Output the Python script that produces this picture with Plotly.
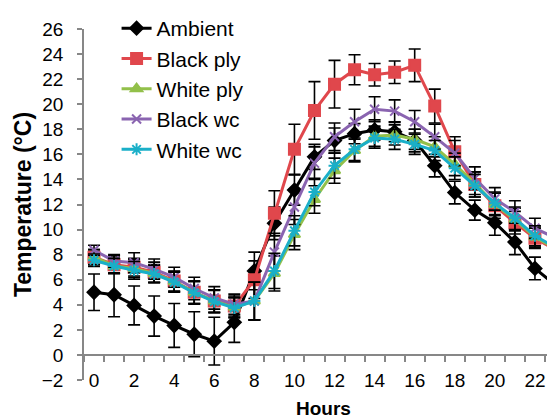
import plotly.graph_objects as go

hours = list(range(24))
x_tick_vals = list(range(0, 23, 2))
x_tick_text = [str(v) for v in x_tick_vals]
x_minor_ticks = [h - 0.5 for h in range(24)]
y_tick_vals = list(range(-2, 27, 2))

ambient = [5.0, 4.8, 3.95, 3.1, 2.35, 1.65, 1.1, 2.6, 6.7, 10.5, 13.15, 15.8,
           17.1, 17.65, 17.95, 17.8, 17.1, 15.1, 12.95, 11.55, 10.55, 9.0, 6.9, 5.6]
ambient_err = [1.45, 1.75, 1.55, 1.6, 1.75, 1.8, 1.9, 1.6, 1.5, 1.3, 1.2, 1.0,
               1.0, 0.8, 0.8, 0.8, 0.9, 0.9, 0.9, 0.8, 1.0, 1.0, 0.9, 1.1]

black_ply = [7.8, 7.2, 7.0, 6.6, 5.9, 5.0, 4.3, 3.9, 6.0, 11.3, 16.4, 19.5,
             21.6, 22.75, 22.35, 22.55, 23.1, 19.85, 16.2, 13.6, 11.9, 10.55, 9.3, 8.4]
black_ply_err = [0.6, 0.7, 0.7, 0.8, 0.8, 0.9, 0.9, 0.8, 1.5, 1.8, 2.0, 2.3,
                 1.9, 1.2, 0.9, 0.9, 1.3, 1.35, 1.2, 1.0, 1.0, 0.9, 0.8, 0.8]

white_ply = [7.8, 7.1, 6.9, 6.5, 5.85, 5.0, 4.3, 3.8, 4.3, 6.5, 9.6, 12.4,
             14.7, 16.3, 17.45, 17.55, 17.2, 16.6, 15.2, 13.7, 12.0, 10.8, 9.4, 8.5]
white_ply_err = [0.6, 0.6, 0.7, 0.7, 0.8, 0.9, 0.9, 0.8, 1.5, 1.4, 1.2, 1.1,
                 1.0, 0.9, 0.8, 0.8, 0.8, 0.8, 0.9, 0.9, 0.9, 0.9, 0.8, 0.8]

black_wc = [8.35, 7.5, 7.35, 6.85, 6.2, 5.3, 4.55, 4.05, 4.3, 8.2, 11.8, 15.3,
            17.4, 18.6, 19.6, 19.45, 18.6, 17.4, 16.1, 14.1, 12.45, 11.4, 10.1, 9.35]
black_wc_err = [0.4, 0.5, 0.8, 0.8, 0.8, 0.9, 0.9, 0.8, 1.5, 1.5, 1.4, 1.3,
                1.1, 1.0, 1.0, 0.9, 0.9, 1.0, 1.0, 0.9, 0.9, 0.9, 0.8, 0.8]

white_wc = [7.55, 7.1, 6.75, 6.45, 5.8, 4.95, 4.25, 3.75, 4.3, 6.7, 9.9, 13.0,
            15.1, 16.4, 17.3, 17.2, 16.8, 16.3, 14.9, 13.5, 12.1, 10.9, 9.5, 8.6]
white_wc_err = [0.5, 0.6, 0.7, 0.7, 0.8, 0.9, 0.9, 0.8, 1.5, 1.4, 1.2, 1.1,
                1.0, 0.9, 0.8, 0.8, 0.8, 0.8, 0.9, 0.9, 0.9, 0.9, 0.8, 0.8]

series = [
    ("Ambient", ambient, ambient_err, "#000000", "diamond", 10),
    ("Black ply", black_ply, black_ply_err, "#E0474C", "square", 11),
    ("White ply", white_ply, white_ply_err, "#92C04A", "triangle-up", 10),
    ("Black wc", black_wc, black_wc_err, "#8A64B0", "x-thin", 9),
    ("White wc", white_wc, white_wc_err, "#1AAFC8", "asterisk", 10),
]

fig = go.Figure()
for i, (name, vals, errs, color, sym, size) in enumerate(series):
    fig.add_trace(go.Scatter(
        x=hours, y=vals, name=name, mode="lines+markers",
        legendgroup=f"g{i}",
        line=dict(color=color, width=3),
        marker=dict(symbol=sym, size=size, color=color,
                    line=dict(color=color, width=2)),
        error_y=dict(type="data", array=errs, visible=True,
                     color="#000000", thickness=1.6, width=6),
    ))

font_family = "Liberation Sans, Arial, sans-serif"
tick_font = dict(family=font_family, size=19, color="#000000")

fig.update_layout(
    width=555, height=418,
    margin=dict(l=76, r=0, t=7, b=46),
    paper_bgcolor="white", plot_bgcolor="white",
    font=dict(family=font_family, size=19, color="#000000"),
    showlegend=True,
    legend=dict(x=0.068, y=1.06, xanchor="left", yanchor="top",
                font=dict(family=font_family, size=21, color="#000000"),
                tracegroupgap=0, bgcolor="rgba(0,0,0,0)"),
    xaxis=dict(
        range=[-0.5, 23.4], anchor="free", position=2 / 28,
        automargin=False,
        tickmode="array", tickvals=x_tick_vals, ticktext=x_tick_text,
        ticks="", showgrid=False, zeroline=False,
        showline=True, linecolor="#878787", linewidth=1.5,
        ticklabelstandoff=9,
        minor=dict(tickmode="array", tickvals=x_minor_ticks, ticks="outside",
                   ticklen=6, tickwidth=1.5, tickcolor="#878787", showgrid=False),
        title=dict(text="<b>Hours</b>", font=dict(family=font_family, size=19), standoff=10),
        tickfont=tick_font,
    ),
    yaxis=dict(
        range=[-2, 26], tickmode="array", tickvals=y_tick_vals,
        automargin=False,
        ticks="outside", ticklen=5, tickwidth=1.5, tickcolor="#878787",
        showline=True, linecolor="#878787", linewidth=1.5,
        showgrid=False, zeroline=False,
        ticklabelstandoff=10,
        title=dict(text="<b>Temperature (°C)</b>", font=dict(family=font_family, size=23), standoff=4),
        tickfont=tick_font,
    ),
)

fig.write_html("out.html")
